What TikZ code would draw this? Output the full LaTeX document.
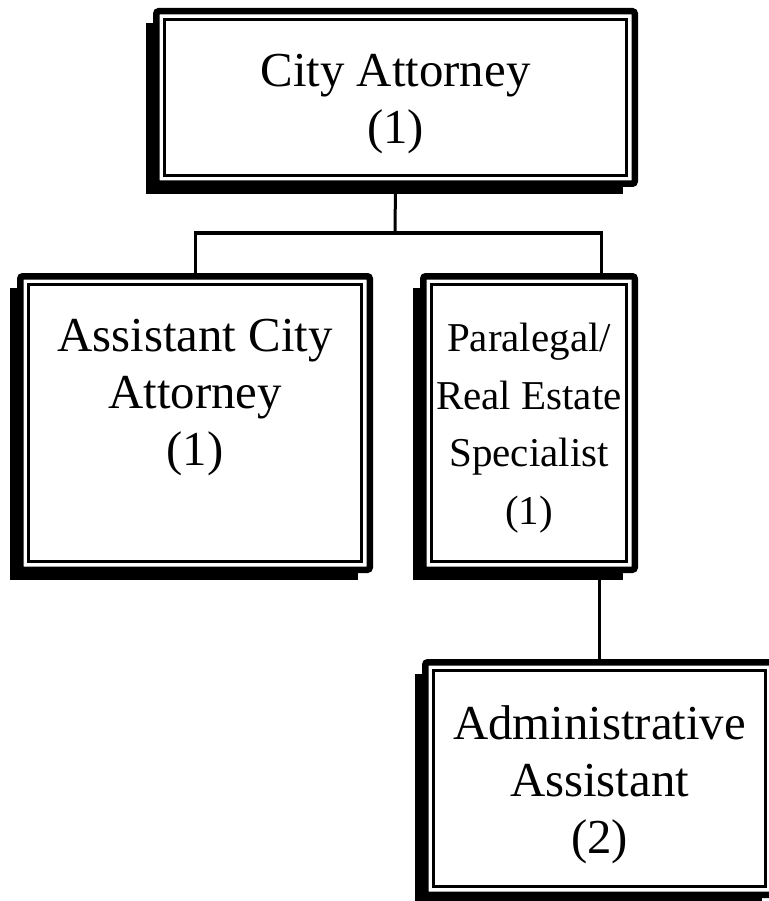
\documentclass[tikz,border=0pt]{standalone}
\usepackage{fontspec}
\setmainfont{Liberation Serif}
\begin{document}
\begin{tikzpicture}[x=1pt,y=-1pt,
  orgframe/.style={draw=black, fill=white, line width=6.5pt, rounded corners=2.5pt,
    inner sep=0pt, outer sep=0pt},
  innerframe/.style={draw=black, line width=3pt},
  shadowfill/.style={fill=black},
  link/.style={draw=black, line width=3pt},
  orgtext/.style={align=center, inner sep=0pt, anchor=north,
    font=\fontsize{48.8}{57}\selectfont},
  narrowtext/.style={orgtext, font=\fontsize{41}{57.5}\selectfont}]
\useasboundingbox (0,0) rectangle (768,901);

% a framed box: name, left, top, right, bottom (outer edge of the thick line)
\newcommand\orgbox[5]{%
  \fill[shadowfill] (#2-7,#3+15) rectangle (#4-15,#5+7);
  \node[orgframe, minimum width={(#4-#2-6.5)*1pt}, minimum height={(#5-#3-6.5)*1pt}]
    (#1) at ({(#2+#4)/2},{(#3+#5)/2}) {};
  \draw[innerframe] ([shift={(8.25,8.25)}]#1.north west)
    rectangle ([shift={(-8.25,-8.25)}]#1.south east);
}

% connector junctions
\coordinate (split) at (395,233);
\coordinate (toB3) at (601,233);

\orgbox{ca}{153}{8}{638}{187}
\orgbox{aca}{17}{273}{373}{573}
\orgbox{para}{420}{273}{638}{573}
\orgbox{admin}{422}{659}{777}{898}

\draw[link] (ca.south) -- (split);
\draw[link] (aca.north) |- (split) -- (toB3) -- (toB3 |- para.north);
\draw[link] (admin.north) -- (admin.north |- para.south);

\node[orgtext, yshift=-42.75pt] (tca) at (ca.north) {City Attorney\\(1)};
\node[orgtext, yshift=-42.75pt] (taca) at (aca.north) {Assistant City\\Attorney\\(1)};
\node[narrowtext, yshift=-47pt] (tpara) at (para.north) {Paralegal/\\Real Estate\\Specialist\\(1)};
\node[orgtext, yshift=-42.75pt] (tadmin) at (admin.north) {Administrative\\Assistant\\(2)};
\end{tikzpicture}
\end{document}
